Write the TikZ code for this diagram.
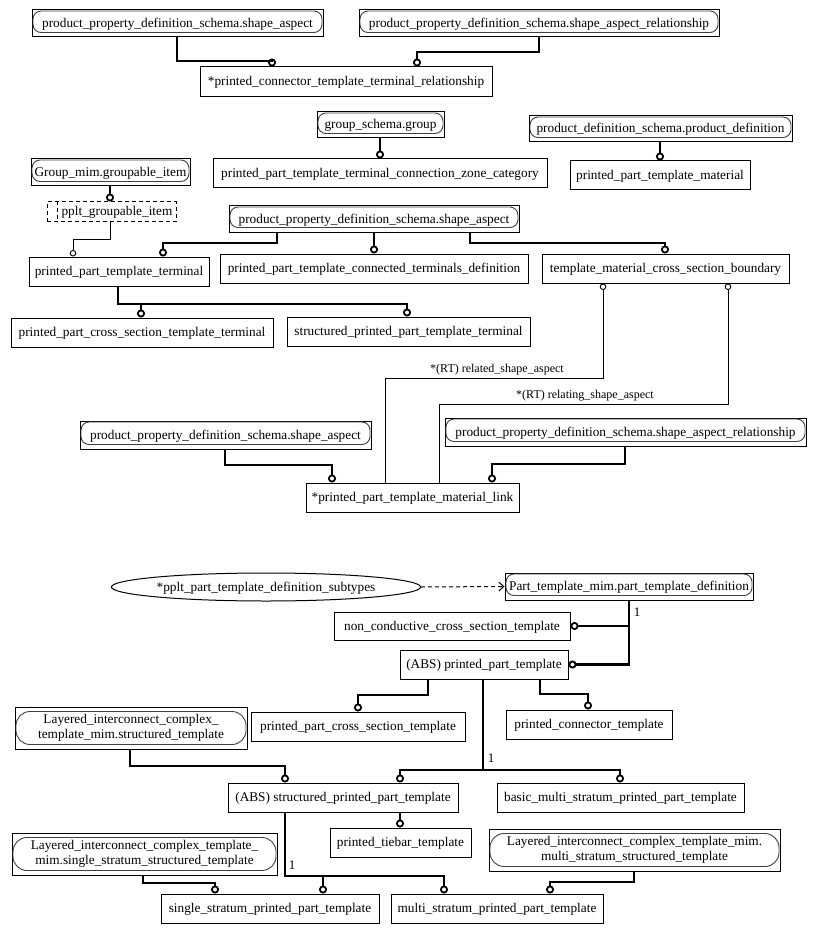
\documentclass[tikz,border=0pt]{standalone}
\usepackage{fontspec}
\setmainfont{Liberation Serif}
\usetikzlibrary{arrows.meta,shapes.geometric}
\tikzset{
  base/.style={draw, line width=1pt, inner sep=0pt, align=center, font=\fontsize{13.3}{14.5}\selectfont},
  ent/.style={base, text height=10.5pt, text depth=2.5pt},
  enttwo/.style={base},
  dbox/.style={ent, dash pattern=on 4pt off 3pt},
  capline/.style={draw=black!75, line width=0.9pt},
  thk/.style={line width=2.4pt, -{Circle[open,length=8pt,width=8pt,line width=1.8pt]}},
  thn/.style={line width=1pt, {Circle[open,length=6.5pt,width=6.5pt,line width=0.9pt]}-},
  thnend/.style={line width=1pt, -{Circle[open,length=6.5pt,width=6.5pt,line width=0.9pt]}},
  dsh/.style={line width=1pt, dash pattern=on 4pt off 3pt, -{Straight Barb[length=5pt,width=9pt]}},
  lbl/.style={inner sep=0pt, font=\fontsize{12}{13}\selectfont},
  one/.style={inner sep=0pt, font=\fontsize{13}{14}\selectfont},
  ell/.style={ellipse, draw, line width=1pt, inner sep=0pt, text height=10.5pt, text depth=2.5pt, font=\fontsize{13.3}{14.5}\selectfont},
}
\newcommand\bx[7][ent]{%
  \pgfmathsetmacro\bxw{#5-#3}%
  \pgfmathsetmacro\bxh{#6-#4}%
  \pgfmathsetmacro\bxcx{(#3+#5)/2}%
  \pgfmathsetmacro\bxcy{(#4+#6)/2}%
  \node[#1,minimum width=\bxw pt,minimum height=\bxh pt] (#2) at (\bxcx,\bxcy) {#7};}
\newcommand\capa[1]{\draw[capline,rounded corners=8pt] ([shift={(1.5,1.5)}]#1.north west) rectangle ([shift={(-1.5,-5)}]#1.south east);}
\newcommand\capb[1]{\draw[capline,rounded corners=14pt] ([shift={(1.5,5)}]#1.north west) rectangle ([shift={(-1.5,-5)}]#1.south east);}
\begin{document}
\begin{tikzpicture}[x=1pt,y=-1pt]
\fill[white] (0,0) rectangle (815,933);
\useasboundingbox (0,0) rectangle (815,933);

% ---- boxes ----
\bx{sa1}{32}{10}{323}{37}{product\_property\_definition\_schema.shape\_aspect}
\capa{sa1}
\bx{sar1}{359}{10}{719}{37}{product\_property\_definition\_schema.shape\_aspect\_relationship}
\capa{sar1}
\bx{pctr}{200}{67}{492}{97}{*printed\_connector\_template\_terminal\_relationship}
\bx{grp}{317}{112}{444}{138}{group\_schema.group}
\capa{grp}
\bx{zone}{213}{159}{547}{188}{printed\_part\_template\_terminal\_connection\_zone\_category}
\bx{pd}{529}{116}{792}{142}{product\_definition\_schema.product\_definition}
\capa{pd}
\bx{mat}{570}{161}{750}{190}{printed\_part\_template\_material}
\bx{gi}{31}{159}{190}{186}{Group\_mim.groupable\_item}
\capa{gi}
\bx[dbox]{pgi}{47}{202}{176}{222}{\hspace*{11pt}pplt\_groupable\_item}
\draw[line width=1pt, dash pattern=on 4pt off 3pt] ([xshift=11pt]pgi.north west) -- ([xshift=11pt]pgi.south west);
\bx{sa2}{229}{206}{519}{232}{product\_property\_definition\_schema.shape\_aspect}
\capa{sa2}
\bx{ppt}{29}{257}{209}{286}{printed\_part\_template\_terminal}
\bx{ctd}{220}{254}{528}{283}{printed\_part\_template\_connected\_terminals\_definition}
\bx{tmcsb}{542}{254}{789}{283}{template\_material\_cross\_section\_boundary}
\bx{pcstt}{11}{318}{273}{347}{printed\_part\_cross\_section\_template\_terminal}
\bx{spptt}{287}{317}{530}{346}{structured\_printed\_part\_template\_terminal}
\bx{sa3}{80}{421}{371}{449}{product\_property\_definition\_schema.shape\_aspect}
\capa{sa3}
\bx{sar3}{445}{418}{806}{446}{product\_property\_definition\_schema.shape\_aspect\_relationship}
\capa{sar3}
\bx{link}{306}{483}{519}{512}{*printed\_part\_template\_material\_link}

\node[ell, minimum width=305pt, minimum height=28pt] (subt) at (266,587) {*pplt\_part\_template\_definition\_subtypes};
\bx{ptd}{505}{573}{753}{600}{Part\_template\_mim.part\_template\_definition}
\capa{ptd}
\bx{ncst}{334}{612}{570}{640}{non\_conductive\_cross\_section\_template}
\bx{ppt2}{400}{650}{568}{679}{(ABS) printed\_part\_template}
\bx{pcst}{251}{712}{465}{741}{printed\_part\_cross\_section\_template}
\bx{pct}{506}{710}{672}{739}{printed\_connector\_template}
\bx[enttwo]{lst}{15}{707}{247}{749}{Layered\_interconnect\_complex\_\\template\_mim.structured\_template}
\capb{lst}
\bx{sppt}{228}{783}{458}{812}{(ABS) structured\_printed\_part\_template}
\bx{bms}{497}{783}{744}{812}{basic\_multi\_stratum\_printed\_part\_template}
\bx{tie}{330}{828}{471}{857}{printed\_tiebar\_template}
\bx[enttwo]{lsst}{12}{833}{277}{875}{Layered\_interconnect\_complex\_template\_\\mim.single\_stratum\_structured\_template}
\capb{lsst}
\bx[enttwo]{lmst}{489}{829}{780}{871}{Layered\_interconnect\_complex\_template\_mim.\\multi\_stratum\_structured\_template}
\capb{lmst}
\bx{ssppt}{161}{894}{379}{923}{single\_stratum\_printed\_part\_template}
\bx{msppt}{391}{894}{603}{923}{multi\_stratum\_printed\_part\_template}

% ---- connectors ----
\draw[thk] (sa1.south -| 177,0) |- (272,61) -- (pctr.north -| 272,0);
\draw[thk] (sar1.south -| 539,0) |- (417,52) -- (pctr.north -| 417,0);
\draw[thk] (grp.south -| 380,0) -- (zone.north -| 380,0);
\draw[thk] (pd.south -| 660,0) -- (mat.north -| 660,0);
\draw[thk] (gi.south -| 110,0) -- (pgi.north -| 110,0);
\draw[thnend] (pgi.south -| 110,0) |- (73,239) -- (ppt.north -| 73,0);
\draw[thk] (sa2.south -| 277,0) |- (163,243) -- (ppt.north -| 163,0);
\draw[thk] (sa2.south -| 374,0) -- (ctd.north -| 374,0);
\draw[thk] (sa2.south -| 470,0) |- (665,243) -- (tmcsb.north -| 665,0);
\draw[thk] (ppt.south -| 118,0) |- (141,304) -- (pcstt.north -| 141,0);
\draw[thk] (ppt.south -| 118,0) |- (407,304) -- (spptt.north -| 407,0);
\draw[thn] (tmcsb.south -| 603,0) -- (603,378) -| (link.north -| 385,0);
\draw[thn] (tmcsb.south -| 728,0) -- (728,404) -| (link.north -| 439,0);
\node[lbl] (rl1) at (497,370) {*(RT) related\_shape\_aspect};
\node[lbl] (rl2) at (585,396) {*(RT) relating\_shape\_aspect};
\draw[thk] (sa3.south -| 225,0) |- (332,465) -- (link.north -| 332,0);
\draw[thk] (sar3.south -| 625,0) |- (492,464) -- (link.north -| 492,0);

\draw[dsh] (subt.east) -- (ptd.west);
\draw[thk] (ptd.south -| 629,0) |- (ncst.east);
\draw[thk] (ptd.south -| 629,0) |- (ppt2.east);
\node[one] (n1) at (637,612) {1};
\draw[thk] (ppt2.south -| 428,0) |- (358,695) -- (pcst.north -| 358,0);
\draw[thk] (ppt2.south -| 540,0) |- (588,694) -- (pct.north -| 588,0);
\draw[thk] (ppt2.south -| 483,0) |- (400,770) -- (sppt.north -| 400,0);
\draw[thk] (ppt2.south -| 483,0) |- (620,770) -- (bms.north -| 620,0);
\node[one] (n2) at (491,758) {1};
\draw[thk] (lst.south -| 130,0) |- (285,766) -- (sppt.north -| 285,0);
\draw[thk] (sppt.south -| 400,0) -- (tie.north -| 400,0);
\draw[thk] (sppt.south -| 285,0) |- (323,876) -- (ssppt.north -| 323,0);
\draw[thk] (sppt.south -| 285,0) |- (444,876) -- (msppt.north -| 444,0);
\node[one] (n3) at (292,865) {1};
\draw[thk] (lsst.south -| 143,0) |- (215,883) -- (ssppt.north -| 215,0);
\draw[thk] (lmst.south -| 634,0) |- (550,882) -- (msppt.north -| 550,0);
\end{tikzpicture}
\end{document}
